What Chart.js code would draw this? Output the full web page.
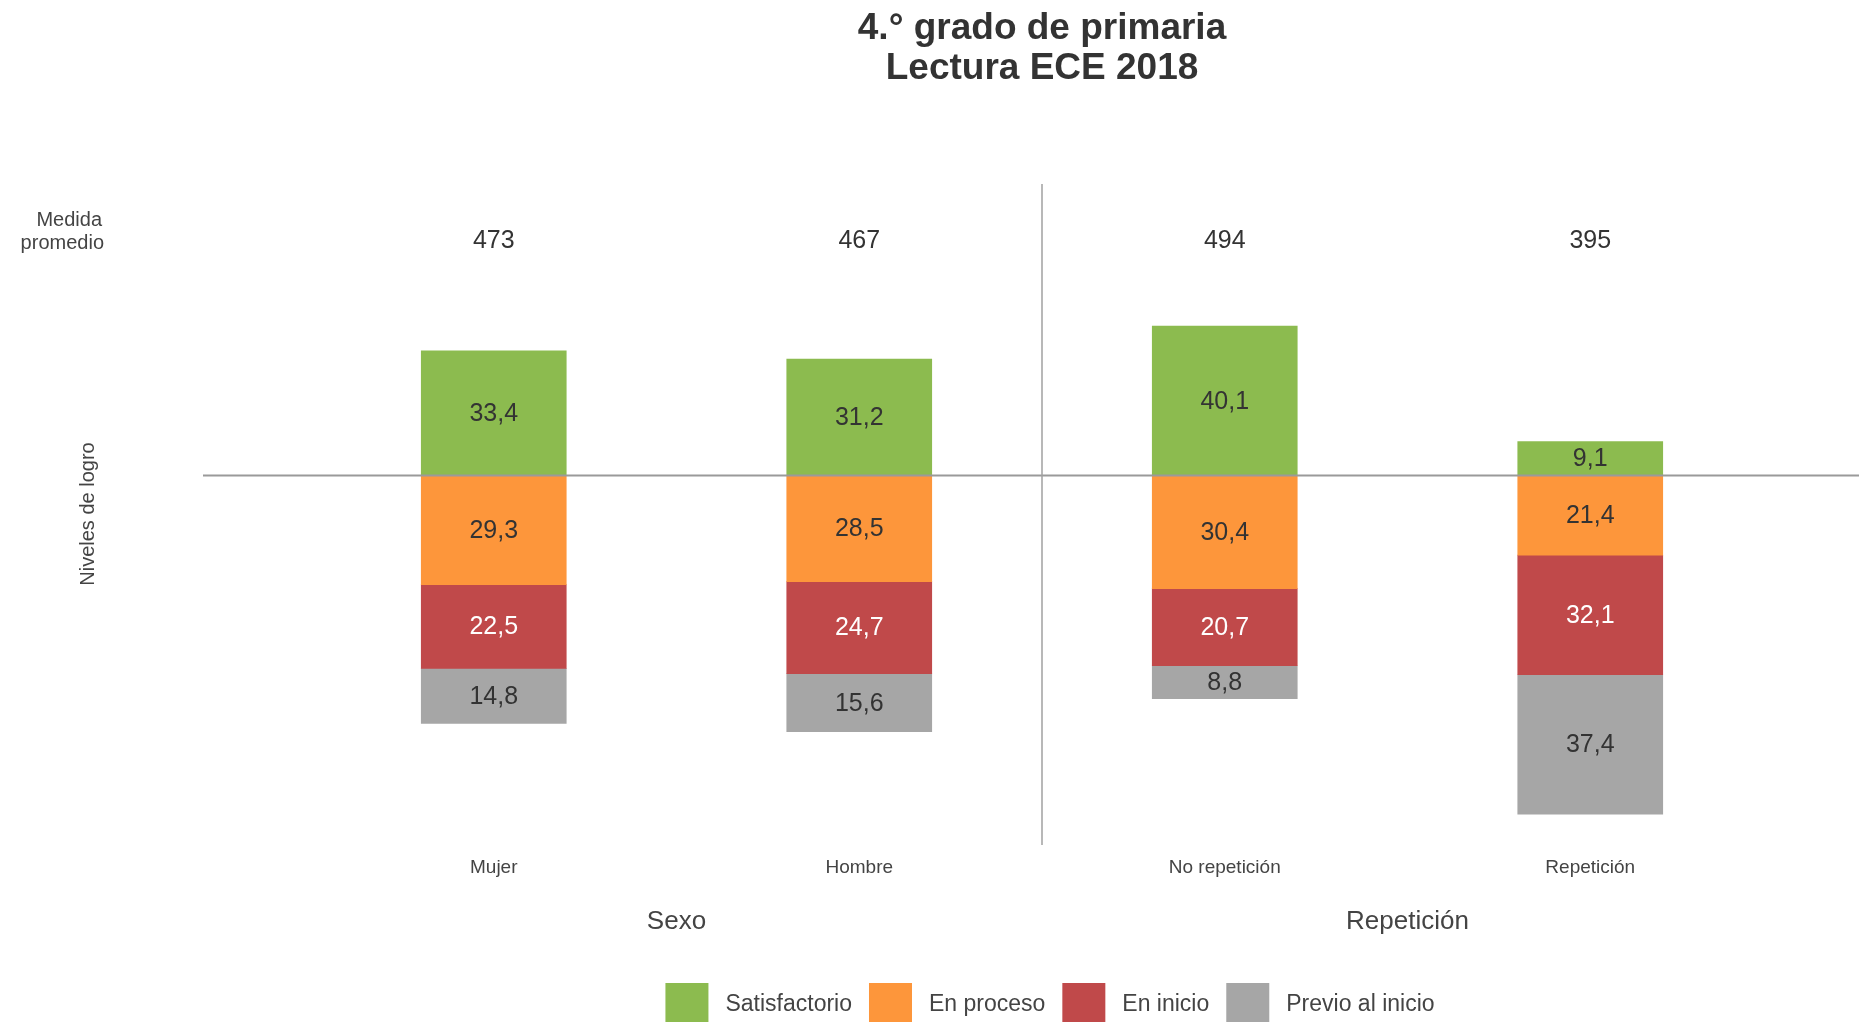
<!DOCTYPE html>
<html>
<head>
<meta charset="utf-8">
<script src="https://cdn.jsdelivr.net/npm/chart.js@4/dist/chart.umd.min.js"></script>
<style>
  html, body { margin: 0; padding: 0; background: #ffffff; }
  canvas { display: block; }
</style>
</head>
<body>
<canvas id="c" width="1859" height="1022"></canvas>
<script>
// ---- data ----
const titleLines = ['4.° grado de primaria', 'Lectura ECE 2018'];
const categories = ['Mujer', 'Hombre', 'No repetición', 'Repetición'];
const groupNames = ['Sexo', 'Repetición'];
const meanScores = [473, 467, 494, 395];
const levelNames = ['Satisfactorio', 'En proceso', 'En inicio', 'Previo al inicio'];
const satisfactorio = [33.4, 31.2, 40.1, 9.1];
const enProceso = [29.3, 28.5, 30.4, 21.4];
const enInicio = [22.5, 24.7, 20.7, 32.1];
const previoAlInicio = [14.8, 15.6, 8.8, 37.4];

// ---- styles ----
const levelColors = ['#8cbb4f', '#fd963b', '#c0494a', '#a6a6a6'];
const labelColors = ['#333333', '#333333', '#ffffff', '#333333'];
const FONT = '"Liberation Sans", Arial, sans-serif';

const datasets = [
  { label: levelNames[0], data: satisfactorio, backgroundColor: levelColors[0] },
  { label: levelNames[1], data: enProceso.map(v => -v), backgroundColor: levelColors[1] },
  { label: levelNames[2], data: enInicio.map(v => -v), backgroundColor: levelColors[2] },
  { label: levelNames[3], data: previoAlInicio.map(v => -v), backgroundColor: levelColors[3] }
].map(d => Object.assign(d, { barThickness: 145, borderWidth: 0, stack: 's' }));

const fmt = v => Math.abs(v).toFixed(1).replace('.', ',');

const decor = {
  id: 'decor',
  afterDatasetsDraw(chart) {
    const ctx = chart.ctx;
    const xs = chart.scales.x, ys = chart.scales.y;
    const area = chart.chartArea;
    ctx.save();

    // data labels
    ctx.textAlign = 'center';
    ctx.textBaseline = 'middle';
    ctx.font = '25px ' + FONT;
    chart.data.datasets.forEach((ds, di) => {
      const meta = chart.getDatasetMeta(di);
      meta.data.forEach((el, i) => {
        const p = el.getProps(['x', 'y', 'base'], true);
        ctx.fillStyle = labelColors[di];
        ctx.fillText(fmt(ds.data[i]), p.x, (p.y + p.base) / 2 + 1);
      });
    });

    // zero line
    const y0 = ys.getPixelForValue(0);
    ctx.strokeStyle = '#9a9a9a';
    ctx.lineWidth = 2;
    ctx.beginPath();
    ctx.moveTo(203, y0);
    ctx.lineTo(chart.width, y0);
    ctx.stroke();

    // group divider
    const xd = (xs.getPixelForValue(1) + xs.getPixelForValue(2)) / 2;
    ctx.lineWidth = 1.5;
    ctx.strokeStyle = '#a0a0a0';
    ctx.beginPath();
    ctx.moveTo(xd, area.top);
    ctx.lineTo(xd, area.bottom);
    ctx.stroke();

    // title
    ctx.fillStyle = '#333333';
    ctx.font = 'bold 37px ' + FONT;
    ctx.fillText(titleLines[0], xd, 29);
    ctx.fillText(titleLines[1], xd, 69);

    // mean scores
    ctx.font = '25px ' + FONT;
    ctx.fillStyle = '#333333';
    categories.forEach((c, i) => {
      ctx.fillText(String(meanScores[i]), xs.getPixelForValue(i), 241);
    });
    ctx.font = '20px ' + FONT;
    ctx.fillStyle = '#444444';
    ctx.textAlign = 'right';
    ctx.fillText('Medida', 102, 220);
    ctx.fillText('promedio', 104, 243);

    // y-axis title
    ctx.save();
    ctx.translate(88, 514);
    ctx.rotate(-Math.PI / 2);
    ctx.textAlign = 'center';
    ctx.font = '20px ' + FONT;
    ctx.fillText('Niveles de logro', 0, 0);
    ctx.restore();

    // category labels
    ctx.textAlign = 'center';
    ctx.font = '19px ' + FONT;
    ctx.fillStyle = '#444444';
    categories.forEach((c, i) => {
      ctx.fillText(c, xs.getPixelForValue(i), 868);
    });

    // group labels
    ctx.font = '26px ' + FONT;
    ctx.fillStyle = '#444444';
    groupNames.forEach((g, k) => {
      const gx = (xs.getPixelForValue(2 * k) + xs.getPixelForValue(2 * k + 1)) / 2;
      ctx.fillText(g, gx, 922);
    });

    // legend
    ctx.font = '23px ' + FONT;
    const box = 43, gapIn = 17, gapOut = 17;
    const widths = levelNames.map(n => ctx.measureText(n).width);
    const total = widths.reduce((a, w) => a + box + gapIn + w, 0) + gapOut * (levelNames.length - 1);
    let lx = 1050 - total / 2;
    ctx.textAlign = 'left';
    levelNames.forEach((n, k) => {
      ctx.fillStyle = levelColors[k];
      ctx.fillRect(lx, 983, box, 42);
      ctx.fillStyle = '#444444';
      ctx.fillText(n, lx + box + gapIn, 1005);
      lx += box + gapIn + widths[k] + gapOut;
    });

    ctx.restore();
  }
};

new Chart(document.getElementById('c'), {
  type: 'bar',
  data: { labels: categories, datasets },
  options: {
    responsive: false,
    animation: false,
    devicePixelRatio: 1,
    layout: { padding: { left: 311, right: 86, top: 184, bottom: 177 } },
    plugins: { legend: { display: false }, title: { display: false }, tooltip: { enabled: false } },
    scales: {
      x: { stacked: true, display: false },
      y: { stacked: true, display: false, min: -99.2, max: 78.2 }
    }
  },
  plugins: [decor]
});
</script>
</body>
</html>
